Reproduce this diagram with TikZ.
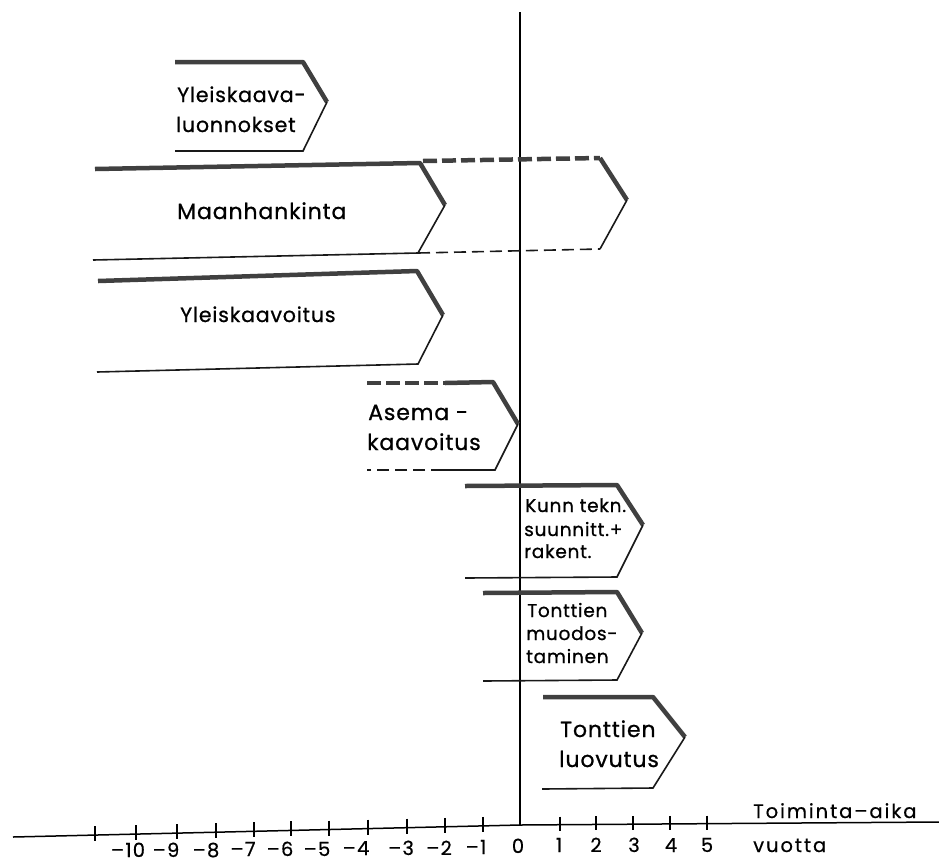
\documentclass[tikz,border=0pt]{standalone}
\usepackage{fontspec}
\setmainfont{Poppins}
\newfontfamily\boxfont[LetterSpace=4,FakeBold=0.8]{Poppins}
\newfontfamily\axfont[LetterSpace=6,FakeBold=0.5]{Poppins}
\newfontfamily\titfont[LetterSpace=10,FakeBold=0.5]{Poppins}
\begin{document}
\begin{tikzpicture}[x=1pt,y=-1pt,
  thickline/.style={line width=4.5pt,draw=black!75,line join=round,line cap=butt},
  thinline/.style={line width=1.6pt,draw=black!90,line join=miter},
  thickdash/.style={thickline,dash pattern=on 14pt off 5pt},
  thindash/.style={thinline,dash pattern=on 12pt off 6pt},
  lbl/.style={anchor=base west,inner sep=0pt,font=\boxfont\fontsize{22}{25}\selectfont},
  lblb/.style={anchor=base west,inner sep=0pt,font=\boxfont\fontsize{20.5}{25}\selectfont},
  smalllbl/.style={anchor=base west,inner sep=0pt,font=\boxfont\fontsize{18.5}{22}\selectfont},
  num/.style={anchor=base,inner sep=0pt,font=\axfont\fontsize{19.5}{22}\selectfont},
  axline/.style={line width=1.5pt,draw=black}]
\useasboundingbox (0,0) rectangle (939,863);
\fill[white] (0,0) rectangle (939,863);

% vertical axis
\coordinate (vtop) at (520,12);
\coordinate (vbot) at (520,825);
\draw[axline] (vtop) -- (vbot);

% horizontal axis
\coordinate (hl) at (13,837);
\coordinate (hr) at (939,822);
\draw[axline] (hl) -- (vbot) -- (hr);

% ticks
\foreach \xx in {95,136,177,216,254,291,329,368,407,445,483}{
  \pgfmathsetmacro\yy{837-(\xx-13)*12/507}
  \draw[line width=1.3pt] (\xx,{\yy-9}) -- (\xx,{\yy+6});
}
\foreach \xx in {560,596,633,670,707}{
  \pgfmathsetmacro\yy{825-(\xx-520)*3/419}
  \draw[line width=1.3pt] (\xx,{\yy-8}) -- (\xx,{\yy+6});
}
% tick labels
\node[num] (lm10) at (128,857) {–10};
\node[num] (lm9) at (166,857) {–9};
\node[num] (lm8) at (206,857) {–8};
\node[num] (lm7) at (243,856) {–7};
\node[num] (lm6) at (280,856) {–6};
\node[num] (lm5) at (317,856) {–5};
\node[num] (lm4) at (356,855) {–4};
\node[num] (lm3) at (401,855) {–3};
\node[num] (lm2) at (439,855) {–2};
\node[num] (lm1) at (476,854) {–1};
\node[num] (l0) at (518,853) {0};
\node[num] (l1) at (559,852) {1};
\node[num] (l2) at (596,852) {2};
\node[num] (l3) at (634,852) {3};
\node[num] (l4) at (671,852) {4};
\node[num] (l5) at (707,852) {5};
\node[num,anchor=base west,font=\titfont\fontsize{19.5}{22}\selectfont] (vuotta) at (753,852) {vuotta};
\node[num,anchor=base west,font=\titfont\fontsize{19.5}{22}\selectfont] (toim) at (753,818) {Toiminta–aika};

% Box 1: Yleiskaava-luonnokset
\draw[thickline] (175,62) -- (303,62) -- (327,102);
\draw[thinline] (327,102) -- (303,151) -- (175,151);
\node[lblb] (t1a) at (177,102) {Yleiskaava-};
\node[lblb] (t1b) at (176,132) {luonnokset};

% Box 2: Maanhankinta
\draw[thickline] (95,169) -- (420,163) -- (445,205);
\draw[thinline] (445,205) -- (418,253) -- (93,260);
\draw[thickdash] (423,161) -- (600,158);
\draw[thickline] (600,158) -- (627,200);
\draw[thinline] (627,200) -- (600,249);
\draw[thindash] (418,253) -- (600,249);
\node[lbl] (t2) at (177,219) {Maanhankinta};

% Box 3: Yleiskaavoitus
\draw[thickline] (98,281) -- (417,271) -- (443,315);
\draw[thinline] (443,315) -- (418,364) -- (97,372);
\node[lblb] (t3) at (180,322) {Yleiskaavoitus};

% Box 4: Asemakaavoitus
\draw[thickdash] (367,383) -- (447,383);
\draw[thickline] (445,383) -- (493,382) -- (518,424);
\draw[thinline] (518,424) -- (495,470) -- (443,470);
\draw[thindash] (443,470) -- (367,470);
\node[lbl] (t4a) at (368,420) {Asema -};
\node[lbl] (t4b) at (367,450) {kaavoitus};

% Box 5: Kunn tekn.
\draw[thickline] (465,486) -- (617,485) -- (643,525);
\draw[thinline] (643,525) -- (617,577) -- (465,578);
\node[smalllbl] (t5a) at (525,512) {Kunn tekn.};
\node[smalllbl] (t5b) at (524,536) {suunnitt.+};
\node[smalllbl] (t5c) at (524,558) {rakent.};

% Box 6: Tonttien muodostaminen
\draw[thickline] (483,593) -- (617,592) -- (642,633);
\draw[thinline] (642,633) -- (617,680) -- (483,681);
\node[smalllbl] (t6a) at (527,617) {Tonttien};
\node[smalllbl] (t6b) at (526,640) {muodos-};
\node[smalllbl] (t6c) at (526,663) {taminen};

% Box 7: Tonttien luovutus
\draw[thickline] (543,697) -- (653,697) -- (685,737);
\draw[thinline] (685,737) -- (653,788) -- (542,789);
\node[lbl] (t7a) at (560,737) {Tonttien};
\node[lbl] (t7b) at (559,767) {luovutus};
\end{tikzpicture}
\end{document}
